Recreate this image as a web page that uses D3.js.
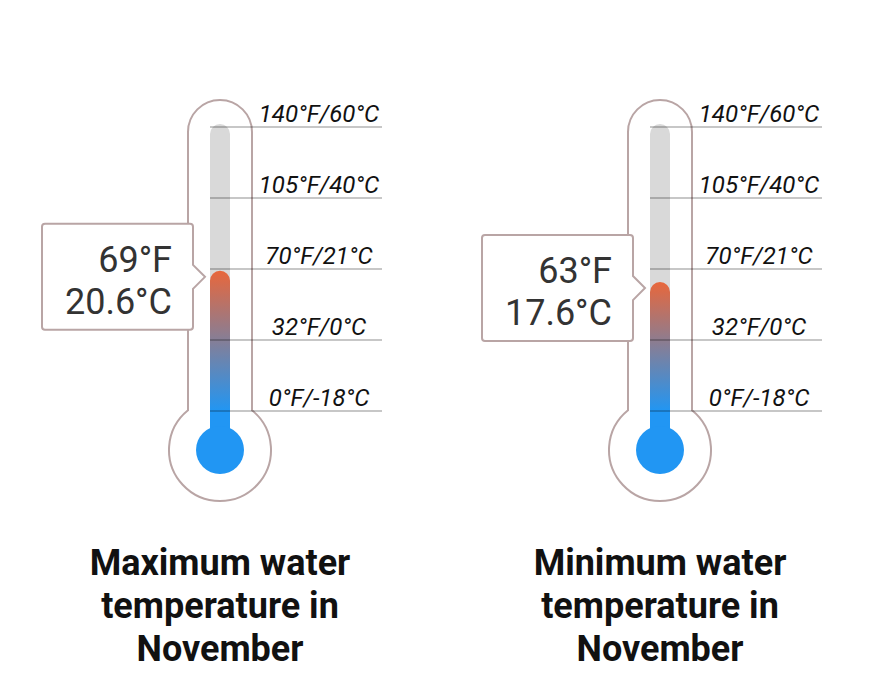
<!DOCTYPE html>
<html>
<head>
<meta charset="utf-8">
<script src="https://cdn.jsdelivr.net/npm/d3@7"></script>
<style>
  html, body { margin: 0; padding: 0; background: #fff; }
  svg { display: block; font-family: Roboto, "Noto Sans", sans-serif; }
</style>
</head>
<body>
<svg id="chart" width="880" height="680"></svg>
<script>
// ---- data ----
const tickValuesF = [140, 105, 70, 32, 0];
const tickLabels = ["140°F/60°C", "105°F/40°C", "70°F/21°C", "32°F/0°C", "0°F/-18°C"];
const titles = ["Maximum water temperature in November", "Minimum water temperature in November"];
const titleLines = [["Maximum water", "temperature in", "November"], ["Minimum water", "temperature in", "November"]];
const valuesF = [69, 63];
const valuesC = [20.6, 17.6];

// ---- drawing ----
const svg = d3.select("#chart");
const outline = "#b9a5a5";
const defs = svg.append("defs");

// piecewise-linear scale: ticks evenly spaced
const yScale = d3.scaleLinear()
  .domain([0, 32, 70, 105, 140])
  .range([411, 340, 269, 198, 127]);

const centers = [220, 660];
const bulbY = 450, bulbR = 51, halfW = 32, tubeHalf = 10;

centers.forEach((cx, i) => {
  const g = svg.append("g");
  const joinY = bulbY - Math.sqrt(bulbR * bulbR - halfW * halfW);
  const topY = 100;

  // outer glass outline
  g.append("path")
    .attr("d", `M${cx - halfW},${joinY} L${cx - halfW},${topY + halfW} A${halfW},${halfW} 0 0 1 ${cx + halfW},${topY + halfW} L${cx + halfW},${joinY} A${bulbR},${bulbR} 0 1 1 ${cx - halfW},${joinY} Z`)
    .attr("fill", "#fff").attr("stroke", outline).attr("stroke-width", 2);

  // inner grey tube
  const tubeTop = yScale(140) - 3;
  g.append("path")
    .attr("d", `M${cx - tubeHalf},${bulbY} L${cx - tubeHalf},${tubeTop + tubeHalf} A${tubeHalf},${tubeHalf} 0 0 1 ${cx + tubeHalf},${tubeTop + tubeHalf} L${cx + tubeHalf},${bulbY} Z`)
    .attr("fill", "#d9d9d9");

  // gradient for mercury
  const vy = yScale(valuesF[i]);
  const gid = "merc" + i;
  const grad = defs.append("linearGradient").attr("id", gid)
    .attr("gradientUnits", "userSpaceOnUse")
    .attr("x1", 0).attr("x2", 0).attr("y1", vy).attr("y2", yScale(0));
  grad.append("stop").attr("offset", "0%").attr("stop-color", "#e8673c");
  grad.append("stop").attr("offset", "100%").attr("stop-color", "#2196f3");

  g.append("path")
    .attr("d", `M${cx - tubeHalf},${bulbY} L${cx - tubeHalf},${vy + tubeHalf} A${tubeHalf},${tubeHalf} 0 0 1 ${cx + tubeHalf},${vy + tubeHalf} L${cx + tubeHalf},${bulbY} Z`)
    .attr("fill", `url(#${gid})`);

  g.append("circle").attr("cx", cx).attr("cy", bulbY).attr("r", 24).attr("fill", "#2196f3");

  // ticks
  g.selectAll("line.tick").data(tickValuesF).join("line")
    .attr("x1", cx - tubeHalf).attr("x2", cx + 162)
    .attr("y1", d => yScale(d)).attr("y2", d => yScale(d))
    .attr("stroke", "#000").attr("stroke-opacity", 0.22).attr("stroke-width", 2);

  g.selectAll("text.tick").data(tickValuesF).join("text")
    .attr("x", cx + 99).attr("y", d => yScale(d) - 5)
    .attr("text-anchor", "middle")
    .attr("font-size", 24).attr("font-style", "italic")
    .attr("fill", "#111")
    .text((d, k) => tickLabels[k]);

  // tooltip box
  const py = vy + 6;
  const bx0 = cx - 178, bx1 = cx - 27, by0 = py - 53, by1 = py + 53, r = 3;
  const tip = cx - 15;
  g.append("path")
    .attr("d", `M${bx0 + r},${by0} L${bx1 - r},${by0} Q${bx1},${by0} ${bx1},${by0 + r} L${bx1},${py - 12} L${tip},${py} L${bx1},${py + 12} L${bx1},${by1 - r} Q${bx1},${by1} ${bx1 - r},${by1} L${bx0 + r},${by1} Q${bx0},${by1} ${bx0},${by1 - r} L${bx0},${by0 + r} Q${bx0},${by0} ${bx0 + r},${by0} Z`)
    .attr("fill", "#fff").attr("stroke", outline).attr("stroke-width", 2);

  g.append("text").attr("x", cx - 48).attr("y", py - 5)
    .attr("text-anchor", "end").attr("font-size", 36).attr("fill", "#333")
    .text(valuesF[i] + "°F");
  g.append("text").attr("x", cx - 48).attr("y", py + 37)
    .attr("text-anchor", "end").attr("font-size", 36).attr("fill", "#333")
    .text(valuesC[i].toFixed(1) + "°C");

  // title
  const t = g.append("text").attr("text-anchor", "middle")
    .attr("font-size", 36).attr("font-weight", "bold").attr("fill", "#111");
  t.append("title").text(titles[i]);
  titleLines[i].forEach((line, k) => {
    t.append("tspan").attr("x", cx).attr("y", 575 + k * 43).text(line);
  });
});
</script>
</body>
</html>
